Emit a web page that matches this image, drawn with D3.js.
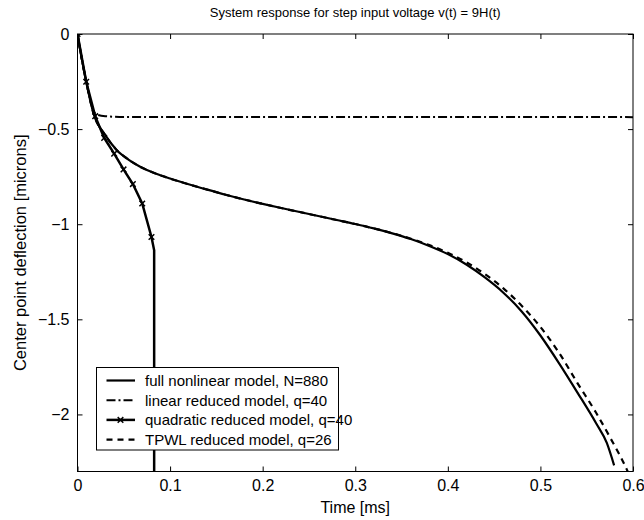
<!DOCTYPE html>
<html><head><meta charset="utf-8">
<script src="https://cdn.jsdelivr.net/npm/d3@7"></script>
<style>
html,body{margin:0;padding:0;background:#fff;}
text{font-family:"Liberation Sans",Arial,Helvetica,sans-serif;fill:#000;}
</style></head>
<body>
<script>
const title = "System response for step input voltage v(t) = 9H(t)";
const xLabel = "Time [ms]";
const yLabel = "Center point deflection [microns]";
const xTicks = [0, 0.1, 0.2, 0.3, 0.4, 0.5, 0.6];
const yTicks = [0, -0.5, -1, -1.5, -2];
const xDomain = [0, 0.6];
const yDomain = [-2.3, 0];

const fullT = [0, 0.005, 0.0094, 0.0173, 0.03, 0.0425, 0.055, 0.0677, 0.085, 0.1, 0.12, 0.14, 0.16, 0.18, 0.2, 0.22, 0.24, 0.26, 0.28, 0.30, 0.32, 0.34, 0.36, 0.38, 0.40, 0.42, 0.44, 0.46, 0.48, 0.50, 0.52, 0.54, 0.56, 0.5717, 0.5796];
const fullV = [0, -0.14, -0.25, -0.417, -0.532, -0.611, -0.66, -0.698, -0.735, -0.760, -0.790, -0.818, -0.845, -0.870, -0.893, -0.915, -0.936, -0.957, -0.978, -0.999, -1.022, -1.048, -1.078, -1.114, -1.157, -1.212, -1.280, -1.360, -1.460, -1.585, -1.730, -1.885, -2.045, -2.150, -2.268];

const linT = [0, 0.005, 0.0094, 0.0173, 0.022, 0.03, 0.05, 0.6];
const linV = [0, -0.14, -0.25, -0.405, -0.425, -0.432, -0.436, -0.437];

const quadT = [0, 0.0094, 0.0191, 0.0288, 0.0396, 0.0497, 0.0598, 0.0699, 0.0799, 0.0828, 0.0828];
const quadV = [0, -0.251, -0.432, -0.546, -0.629, -0.712, -0.789, -0.891, -1.067, -1.137, -2.5];
const quadMarked = [1, 1, 1, 1, 1, 1, 1, 1, 1, 0, 0];

const tpwlT = [0, 0.005, 0.0094, 0.0173, 0.03, 0.0425, 0.055, 0.0677, 0.085, 0.1, 0.12, 0.14, 0.16, 0.18, 0.2, 0.22, 0.24, 0.26, 0.28, 0.30, 0.32, 0.34, 0.36, 0.38, 0.40, 0.42, 0.44, 0.46, 0.48, 0.50, 0.52, 0.54, 0.56, 0.575, 0.593, 0.597];
const tpwlV = [0, -0.14, -0.25, -0.417, -0.532, -0.611, -0.66, -0.698, -0.735, -0.760, -0.790, -0.818, -0.845, -0.870, -0.893, -0.915, -0.936, -0.957, -0.978, -0.999, -1.022, -1.047, -1.076, -1.110, -1.150, -1.200, -1.262, -1.337, -1.430, -1.540, -1.675, -1.835, -1.990, -2.119, -2.286, -2.33];

const legendLabels = ["full nonlinear model, N=880", "linear reduced model, q=40", "quadratic reduced model, q=40", "TPWL reduced model, q=26"];

const W = 644, H = 520;
const m = {left: 77.5, right: 11, top: 34, bottom: 48.5};
const pw = W - m.left - m.right, ph = H - m.top - m.bottom;

const svg = d3.select("body").append("svg").attr("width", W).attr("height", H);
const x = d3.scaleLinear().domain(xDomain).range([m.left, m.left + pw]);
const y = d3.scaleLinear().domain(yDomain).range([m.top + ph, m.top]);

svg.append("defs").append("clipPath").attr("id", "clip")
  .append("rect").attr("x", m.left).attr("y", m.top).attr("width", pw).attr("height", ph);

const fmt = v => (v === 0 ? "0" : String(v)).replace("-", "\u2212");

// axes (ticks inward)
const tl = 5;
svg.append("g").attr("transform", `translate(0,${m.top + ph})`)
  .call(d3.axisBottom(x).tickValues(xTicks).tickSize(-tl).tickPadding(8).tickFormat(fmt))
  .call(g => { g.select(".domain").remove(); g.selectAll("text").attr("font-size", 16).attr("dy", "0.72em"); });
svg.append("g").attr("transform", `translate(0,${m.top})`)
  .call(d3.axisTop(x).tickValues(xTicks).tickSize(-tl).tickFormat(""))
  .call(g => g.select(".domain").remove());
svg.append("g").attr("transform", `translate(${m.left},0)`)
  .call(d3.axisLeft(y).tickValues(yTicks).tickSize(-tl).tickPadding(8).tickFormat(fmt))
  .call(g => { g.select(".domain").remove(); g.selectAll("text").attr("font-size", 16); });
svg.append("g").attr("transform", `translate(${m.left + pw},0)`)
  .call(d3.axisRight(y).tickValues(yTicks).tickSize(-tl).tickFormat(""))
  .call(g => g.select(".domain").remove());
svg.selectAll(".tick line").attr("stroke", "#000");

svg.append("rect").attr("x", m.left).attr("y", m.top).attr("width", pw).attr("height", ph)
  .attr("fill", "none").attr("stroke", "#000").attr("stroke-width", 1);

const zip = (T, V) => T.map((t, i) => ({t, v: V[i]}));
const smooth = d3.line().x(d => x(d.t)).y(d => y(d.v)).curve(d3.curveMonotoneX);
const straight = d3.line().x(d => x(d.t)).y(d => y(d.v));

const plot = svg.append("g").attr("clip-path", "url(#clip)");

plot.append("path").datum(zip(linT, linV)).attr("d", smooth)
  .attr("fill", "none").attr("stroke", "#000").attr("stroke-width", 2).attr("stroke-dasharray", "9,3,2,3");
plot.append("path").datum(zip(tpwlT, tpwlV)).attr("d", smooth)
  .attr("fill", "none").attr("stroke", "#000").attr("stroke-width", 2.2).attr("stroke-dasharray", "6,5");
plot.append("path").datum(zip(fullT, fullV)).attr("d", smooth)
  .attr("fill", "none").attr("stroke", "#000").attr("stroke-width", 2.2);
const qd = zip(quadT, quadV);
plot.append("path").datum(qd).attr("d", straight)
  .attr("fill", "none").attr("stroke", "#000").attr("stroke-width", 2.5);
const cross = "M-2.8,-2.8L2.8,2.8M-2.8,2.8L2.8,-2.8";
plot.selectAll(".qm").data(qd.filter((d, i) => quadMarked[i])).enter().append("path")
  .attr("transform", d => `translate(${x(d.t)},${y(d.v)})`).attr("d", cross)
  .attr("stroke", "#000").attr("stroke-width", 1.5).attr("fill", "none");

// title and labels
svg.append("text").attr("x", m.left + pw / 2).attr("y", 17).attr("text-anchor", "middle")
  .attr("font-size", 13).text(title);
svg.append("text").attr("x", m.left + pw / 2).attr("y", 513).attr("text-anchor", "middle")
  .attr("font-size", 16).text(xLabel);
svg.append("text").attr("transform", `translate(26,${m.top + ph / 2}) rotate(-90)`)
  .attr("text-anchor", "middle").attr("font-size", 16.5).text(yLabel);

// legend
const lg = svg.append("g");
const lx = 96.5, ly = 367.5, lw = 242, lh = 82.5;
lg.append("rect").attr("x", lx).attr("y", ly).attr("width", lw).attr("height", lh)
  .attr("fill", "#fff").attr("stroke", "#000").attr("stroke-width", 1);
const styles = [
  {dash: null, w: 2.2, mark: false},
  {dash: "9,3,2,3", w: 2, mark: false},
  {dash: null, w: 2.5, mark: true},
  {dash: "6,5", w: 2.2, mark: false}
];
legendLabels.forEach((lab, i) => {
  const yy = ly + 13 + i * 19.7;
  lg.append("line").attr("x1", lx + 10).attr("x2", lx + 38.5).attr("y1", yy).attr("y2", yy)
    .attr("stroke", "#000").attr("stroke-width", styles[i].w)
    .attr("stroke-dasharray", styles[i].dash);
  if (styles[i].mark) lg.append("path").attr("transform", `translate(${lx + 24},${yy})`)
    .attr("d", cross).attr("stroke", "#000").attr("stroke-width", 1.5);
  lg.append("text").attr("x", lx + 48.5).attr("y", yy + 5.5).attr("font-size", 15).text(lab);
});
</script>
</body></html>
